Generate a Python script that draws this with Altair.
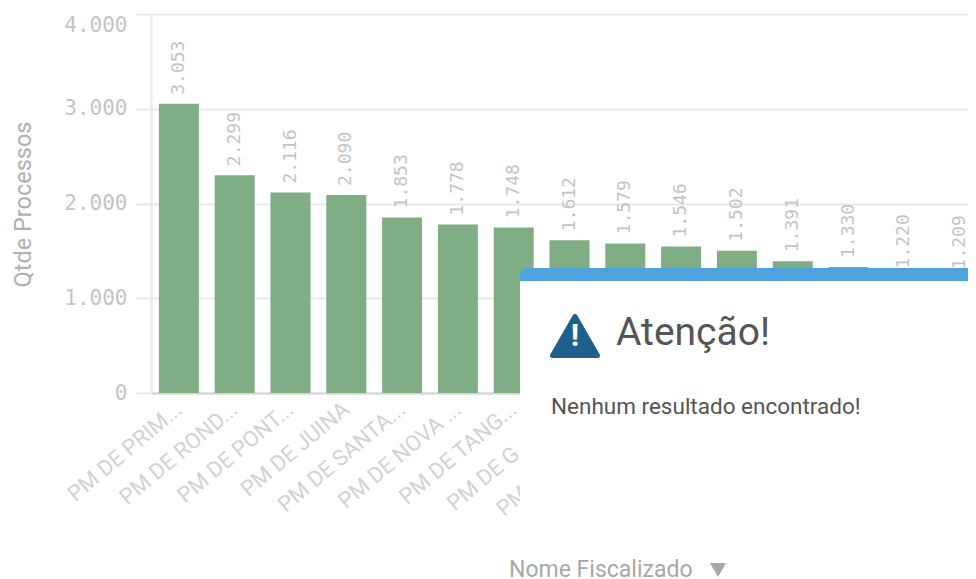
import altair as alt
import pandas as pd

values = [3053, 2299, 2116, 2090, 1853, 1778, 1748, 1612, 1579, 1546, 1502, 1391, 1330, 1220, 1209]
names = ["PM DE PRIM...", "PM DE ROND...", "PM DE PONT...", "PM DE JUINA", "PM DE SANTA...",
         "PM DE NOVA ...", "PM DE TANG...", "PM DE G............", "PM DE ................", "", "", "", "", "", ""]
y_ticks = [0, 1000, 2000, 3000, 4000]

GRID = "#e9e9e9"
MONO = "DejaVu Sans Mono"
SANS = "Roboto"

df = pd.DataFrame({"idx": list(range(len(values))), "value": values})
one = pd.DataFrame({"a": [0]})

names_js = "[" + ",".join("'" + n + "'" for n in names) + "]"
x = alt.X("idx:O", scale=alt.Scale(range=[0, 837], paddingInner=0, paddingOuter=0),
          axis=alt.Axis(title=None, labelExpr=names_js + "[datum.value]", labelAngle=-40,
                        labelAlign="right", labelBaseline="middle",
                        labelFont=SANS, labelFontSize=22, labelColor="#d2d2d2", labelPadding=13,
                        ticks=False, domainColor="#d4d4d4", domainWidth=2, labelOverlap=False,
                        labelBound=False, labelFlush=False))
y = alt.Y("value:Q", scale=alt.Scale(domain=[0, 4000]),
          axis=alt.Axis(title="Qtde Processos", values=y_ticks, grid=True, gridColor=GRID, gridWidth=2,
                        tickColor=GRID, tickSize=16, tickWidth=2, domainColor=GRID, domainWidth=2,
                        labelFont=MONO, labelFontSize=21, labelColor="#c4c4c4", labelPadding=8,
                        labelBaseline=alt.expr("datum.value == 4000 ? 'top' : 'middle'"),
                        labelExpr="replace(format(datum.value, ','), ',', '.')",
                        titleFont=SANS, titleFontSize=23.5, titleFontWeight="normal", titleColor="#b0b0b0",
                        titleX=-116, titleY=190))

base = alt.Chart(df).transform_calculate(lbl="replace(format(datum.value, ','), ',', '.')")
bars = base.mark_bar(size=40, color="#7fae84").encode(x=x, y=y)
labels = base.mark_text(angle=270, align="left", baseline="middle", dx=9, font=MONO, fontSize=18,
                        color="#c4c4c4").encode(x=x, y=y, text="lbl:N")

def v(n):
    return alt.value(n)

blue = alt.Chart(one).mark_rect(color="#4ca3df", cornerRadiusTopLeft=7).encode(
    x=v(369), x2=v(817), y=v(254), y2=v(279))
white = alt.Chart(one).mark_rect(color="#ffffff").encode(x=v(369), x2=v(817), y=v(267), y2=v(566))
icon = alt.Chart(one).mark_point(shape="triangle-up", size=2025, filled=True, color="#1f5f8b", opacity=1,
                                 stroke="#1f5f8b", strokeWidth=5, strokeJoin="round").encode(x=v(424), y=v(322))
bang = alt.Chart(one).mark_text(text="!", font=SANS, fontSize=31, fontWeight="bold", color="#ffffff",
                                align="center", baseline="middle").encode(x=v(424), y=v(323))
title = alt.Chart(one).mark_text(text="Atenção!", font=SANS, fontSize=39, color="#555555",
                                 align="left", baseline="middle").encode(x=v(465), y=v(319))
msg = alt.Chart(one).mark_text(text="Nenhum resultado encontrado!", font=SANS, fontSize=22.5, color="#555555",
                               align="left", baseline="middle").encode(x=v(400), y=v(393))
xtitle = alt.Chart(one).mark_text(text="Nome Fiscalizado", font=SANS, fontSize=23, color="#a8a8a8",
                                  align="left", baseline="middle").encode(x=v(358), y=v(556))
arrow = alt.Chart(one).mark_point(shape="triangle-down", size=260, filled=True, color="#a8a8a8",
                                  opacity=1).encode(x=v(567), y=v(556))

chart = alt.layer(bars, labels, blue, white, icon, bang, title, msg, xtitle, arrow).properties(
    width=817, height=379, autosize=alt.AutoSizeParams(type="none"),
    padding={"left": 143, "top": 6, "right": 0, "bottom": 186},
    background="#ffffff",
).configure_view(stroke=None)

chart.save("out.html", embed_options={"renderer": "svg", "actions": False})
